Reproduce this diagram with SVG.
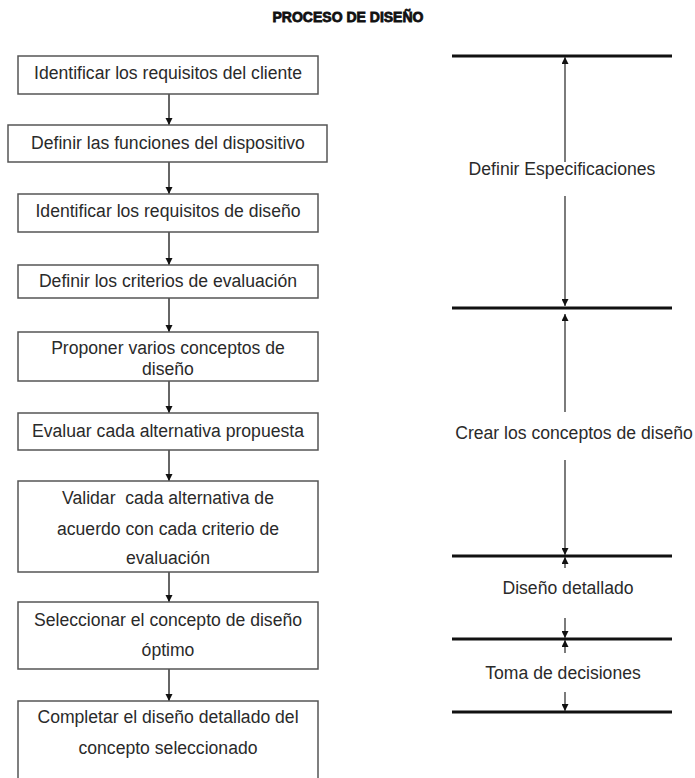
<svg xmlns="http://www.w3.org/2000/svg" width="695" height="778" viewBox="0 0 695 778">
<defs>
<marker id="ah" viewBox="0 0 10 10" refX="10" refY="5" markerWidth="7" markerHeight="8" markerUnits="userSpaceOnUse" orient="auto">
<path d="M0,0 L10,5 L0,10 z" fill="#111"/>
</marker>
<marker id="ahs" viewBox="0 0 10 10" refX="10" refY="5" markerWidth="7" markerHeight="7" markerUnits="userSpaceOnUse" orient="auto">
<path d="M0,0 L10,5 L0,10 z" fill="#111"/>
</marker>
</defs>
<style>
.box{fill:#fff;stroke:#555;stroke-width:1.5}
.t{font-family:"Liberation Sans",Arial,sans-serif;font-size:17.6px;fill:#2a2a2a;text-anchor:middle}
.title{font-family:"Liberation Sans",Arial,sans-serif;font-size:14px;font-weight:bold;fill:#111;stroke:#111;stroke-width:0.8;text-anchor:middle}
.c{stroke:#333;stroke-width:1.5;fill:none;marker-end:url(#ah)}
.v{stroke:#444;stroke-width:1.4;fill:none;marker-end:url(#ahs)}
.h{stroke:#111;stroke-width:3}
</style>
<rect width="695" height="778" fill="#fff"/>
<text class="title" x="348" y="22">PROCESO DE DISEÑO</text>

<g id="connectors">
<line class="c" x1="169" y1="94" x2="169" y2="125"/>
<line class="c" x1="169" y1="162" x2="169" y2="194"/>
<line class="c" x1="169" y1="232" x2="169" y2="265"/>
<line class="c" x1="169" y1="298" x2="169" y2="332"/>
<line class="c" x1="169" y1="381" x2="169" y2="413"/>
<line class="c" x1="169" y1="450" x2="169" y2="481"/>
<line class="c" x1="169" y1="572" x2="169" y2="602"/>
<line class="c" x1="169" y1="669" x2="169" y2="701"/>
</g>

<g id="n1"><rect class="box" x="18" y="56" width="300" height="38"/><text class="t" x="168" y="79">Identificar los requisitos del cliente</text></g>
<g id="n2"><rect class="box" x="8" y="125" width="319" height="37"/><text class="t" x="168" y="149">Definir las funciones del dispositivo</text></g>
<g id="n3"><rect class="box" x="18" y="194" width="300" height="38"/><text class="t" x="168" y="217">Identificar los requisitos de diseño</text></g>
<g id="n4"><rect class="box" x="18" y="265" width="300" height="33"/><text class="t" x="168" y="287">Definir los criterios de evaluación</text></g>
<g id="n5"><rect class="box" x="18" y="332" width="300" height="49"/><text class="t" x="168" y="354">Proponer varios conceptos de</text><text class="t" x="168" y="375">diseño</text></g>
<g id="n6"><rect class="box" x="18" y="413" width="300" height="37"/><text class="t" x="168" y="437">Evaluar cada alternativa propuesta</text></g>
<g id="n7"><rect class="box" x="18" y="481" width="300" height="91"/><text class="t" x="168" y="504" xml:space="preserve">Validar  cada alternativa de</text><text class="t" x="168" y="535">acuerdo con cada criterio de</text><text class="t" x="168" y="564">evaluación</text></g>
<g id="n8"><rect class="box" x="18" y="602" width="300" height="67"/><text class="t" x="168" y="626">Seleccionar el concepto de diseño</text><text class="t" x="168" y="656">óptimo</text></g>
<g id="n9"><rect class="box" x="18" y="701" width="300" height="95"/><text class="t" x="168" y="723">Completar el diseño detallado del</text><text class="t" x="168" y="754">concepto seleccionado</text></g>

<g id="phases">
<line class="h" x1="452" y1="56" x2="672" y2="56"/>
<line class="h" x1="452" y1="308" x2="672" y2="308"/>
<line class="h" x1="452" y1="556" x2="672" y2="556"/>
<line class="h" x1="452" y1="639" x2="672" y2="639"/>
<line class="h" x1="452" y1="712" x2="672" y2="712"/>
<line class="v" x1="565" y1="162" x2="565" y2="57"/>
<line class="v" x1="565" y1="196" x2="565" y2="306"/>
<line class="v" x1="565" y1="412" x2="565" y2="314"/>
<line class="v" x1="565" y1="460" x2="565" y2="555"/>
<line class="v" x1="565" y1="568" x2="565" y2="557"/>
<line class="v" x1="565" y1="618" x2="565" y2="638"/>
<line class="v" x1="565" y1="653" x2="565" y2="640"/>
<line class="v" x1="565" y1="692" x2="565" y2="711"/>
<text class="t" x="562" y="175">Definir Especificaciones</text>
<text class="t" x="574" y="439">Crear los conceptos de diseño</text>
<text class="t" x="568" y="594">Diseño detallado</text>
<text class="t" x="563" y="679">Toma de decisiones</text>
</g>
</svg>
